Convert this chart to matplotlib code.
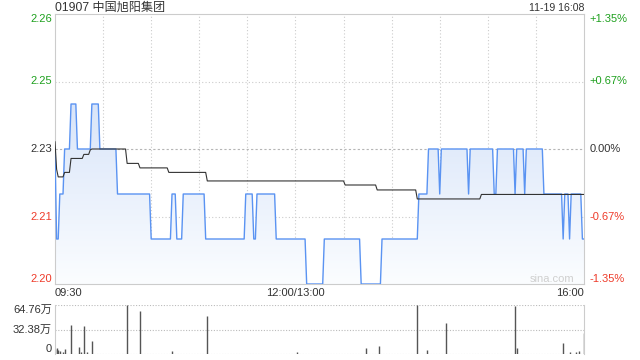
import numpy as np
import matplotlib
matplotlib.use('Agg')
import matplotlib.pyplot as plt
from matplotlib.colors import LinearSegmentedColormap
from matplotlib.patches import PathPatch

plt.rcParams['font.family'] = ['Liberation Sans', 'Noto Sans CJK SC', 'DejaVu Sans']

# ---------------- data ----------------
title = "01907 中国旭阳集团"
timestamp = "11-19 16:08"
prev_close = 2.23

# minute-by-minute price, run-length encoded (value, number of minutes)
price_levels = [2.23, 2.21, 2.22, 2.23, 2.24, 2.23, 2.24, 2.23, 2.22, 2.21,
                2.22, 2.21, 2.22, 2.21, 2.22, 2.21, 2.22, 2.21, 2.20, 2.21,
                2.20, 2.21, 2.22, 2.23, 2.22, 2.23, 2.22, 2.23, 2.22, 2.23,
                2.22, 2.23, 2.22, 2.23, 2.22, 2.21, 2.22, 2.21, 2.22, 2.21]
price_runs = [1, 2, 3, 4, 4, 9, 5, 11, 21, 13,
              3, 4, 14, 25, 5, 2, 12, 19, 11, 23,
              13, 23, 6, 7, 1, 17, 1, 15, 2, 11,
              1, 5, 1, 11, 12, 1, 3, 1, 7, 2]

# average price line, run-length encoded
avg_levels = [2.2316, 2.2255, 2.2238, 2.2248, 2.2279, 2.2288, 2.2298, 2.2300,
              2.2268, 2.2258, 2.2248, 2.2229, 2.2220, 2.2209, 2.2189, 2.2199]
avg_runs = [1, 1, 4, 4, 8, 4, 1, 22, 8, 18, 24, 86, 20, 25, 40, 65]

# volume bars (minute index, volume in 万)
vol_minutes = [0, 1, 2, 3, 5, 6, 10, 15, 16, 18, 20, 23, 45, 53, 73, 95, 151,
               194, 202, 226, 232, 244, 287, 288, 317, 321, 325, 327, 330]
vol_values = [6.7, 8.0, 5.4, 4.0, 2.7, 6.7, 37.8, 9.4, 2.5, 36.4, 2.0, 17.5,
              64.76, 56.7, 4.0, 50.0, 3.0, 7.4, 10.8, 64.5, 5.4, 41.4, 63.0,
              8.0, 14.4, 3.0, 2.5, 3.5, 28.0]

x_tick_pos = [0, 150, 330]
x_tick_labels = ["09:30", "12:00/13:00", "16:00"]
y_ticks = [2.20, 2.215, 2.23, 2.245, 2.26]
y_labels = ["2.20", "2.21", "2.23", "2.25", "2.26"]
pct_labels = ["-1.35%", "-0.67%", "0.00%", "+0.67%", "+1.35%"]
vol_ticks = [0, 32.38, 64.76]
vol_labels = ["0", "32.38万", "64.76万"]

price = np.repeat(price_levels, price_runs)
avg = np.repeat(avg_levels, avg_runs)
minutes = np.arange(len(price))

GREEN = '#1ea01e'
RED = '#ee3b2a'
DARK = '#333333'
GRID = '#cccccc'
BLUE = '#5a93f2'
FS = 8

fig = plt.figure(figsize=(6.4, 3.6), dpi=100)
ax = fig.add_axes([55 / 640, 1 - 284 / 360, 529 / 640, 270 / 360])
axv = fig.add_axes([55 / 640, 1 - 354 / 360, 529 / 640, 49 / 360])

# ---------------- price panel ----------------
ymin, ymax = y_ticks[0], y_ticks[-1]
for x in range(30, 330, 30):
    ax.axvline(x, color=GRID, lw=0.8, ls=(0, (1, 2)), zorder=0)
for y in (y_ticks[1], y_ticks[3]):
    ax.axhline(y, color=GRID, lw=0.8, ls=(0, (1, 2)), zorder=0)
ax.axhline(prev_close, color='#b5b5b5', lw=0.8, ls=(0, (2, 2)), zorder=0)

poly = ax.fill_between(minutes, price, ymin, color='none', lw=0)
path = poly.get_paths()[0]
patch = PathPatch(path, transform=ax.transData, facecolor='none', edgecolor='none')
ax.add_patch(patch)
cmap = LinearSegmentedColormap.from_list('g', ['#fbfdff', '#d9e5f9'])
grad = np.linspace(0, 1, 256).reshape(-1, 1)
im = ax.imshow(grad, extent=[0, 330, ymin, max(price_levels)], origin='lower',
               aspect='auto', cmap=cmap, zorder=1, interpolation='bilinear')
im.set_clip_path(patch)

ax.plot(minutes, price, color=BLUE, lw=1.0, zorder=3)
ax.plot(minutes, avg, color=DARK, lw=0.8, zorder=4)

ax.set_xlim(0, 330)
ax.set_ylim(ymin, ymax)
ax.set_xticks([])
ax.set_yticks([])
for s in ax.spines.values():
    s.set_color(GRID)
    s.set_linewidth(0.8)

ytr = ax.get_yaxis_transform()
for i, (y, lab, pct) in enumerate(zip(y_ticks, y_labels, pct_labels)):
    if y > prev_close:
        col = GREEN
    elif y < prev_close:
        col = RED
    else:
        col = DARK
    va = 'center'
    if i == 0:
        va = 'bottom'
    elif i == len(y_ticks) - 1:
        va = 'top'
    ax.text(-0.006, y, lab, transform=ytr, ha='right', va=va, fontsize=FS, color=col)
    ax.text(1.011, y, pct, transform=ytr, ha='left', va=va, fontsize=FS, color=col)

ax.text(310, 2.2011, "sina.com", ha='center', va='center', fontsize=8, color='#cfcfcf', zorder=5)

fig.text(55 / 640, 1 - 8 / 360, title, ha='left', va='center', fontsize=8.7, color=DARK)
fig.text(584 / 640, 1 - 8 / 360, timestamp, ha='right', va='center', fontsize=7.6, color=DARK)

xtr = ax.get_xaxis_transform()
for pos, lab in zip(x_tick_pos, x_tick_labels):
    ha = 'center'
    if pos == x_tick_pos[0]:
        ha = 'left'
    elif pos == x_tick_pos[-1]:
        ha = 'right'
    ax.text(pos, -0.035, lab, transform=xtr, ha=ha, va='center', fontsize=FS, color=DARK)

# ---------------- volume panel ----------------
axv.set_xlim(0, 330)
axv.set_ylim(0, vol_ticks[-1])
for y in vol_ticks:
    axv.axhline(y, color='#bbbbbb', lw=0.8, ls=(0, (1, 1.5)), zorder=0)
axv.vlines(vol_minutes, 0, vol_values, color='#555555', lw=1.0, zorder=2)
axv.set_xticks([])
axv.set_yticks([])
for k, s in axv.spines.items():
    if k in ('left', 'right'):
        s.set_color(GRID)
        s.set_linewidth(0.8)
    else:
        s.set_visible(False)
vtr = axv.get_yaxis_transform()
for i, (y, lab) in enumerate(zip(vol_ticks, vol_labels)):
    va = 'center'
    if i == 0:
        va = 'bottom'
    elif i == len(vol_ticks) - 1:
        va = 'top'
    axv.text(-0.006, y, lab, transform=vtr, ha='right', va=va, fontsize=FS, color=DARK)

fig.savefig('out.png', dpi=100)
